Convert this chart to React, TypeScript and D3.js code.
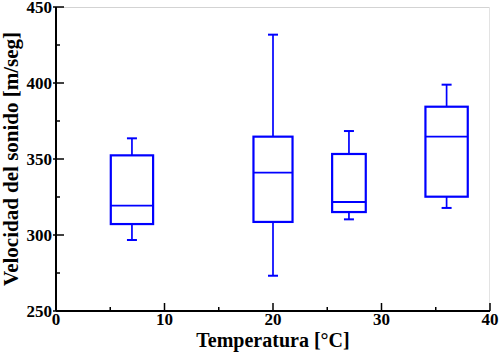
import * as d3 from 'd3';

// temperatures (box centre) and box width, in °C
const temps = [7, 20, 27, 36];
const boxWidths = [3.9, 3.6, 3.1, 3.9];
// five-number summaries, m/seg
const whiskerLow = [296.7, 273.2, 310.3, 317.8];
const q1 = [307.2, 308.6, 315.1, 325.2];
const medians = [319.3, 341.0, 321.7, 364.7];
const q3 = [352.4, 364.7, 353.3, 384.4];
const whiskerHigh = [363.6, 431.8, 368.4, 398.9];

const xTicks = [0, 10, 20, 30, 40];
const yTicks = [250, 300, 350, 400, 450];

const width = 500;
const height = 353;
const margin = { top: 7, right: 10, bottom: 42, left: 56 };
const w = width - margin.left - margin.right;
const h = height - margin.top - margin.bottom;
const FONT = 'Liberation Serif';
const BLUE = '#0000ff';

function App() {
  const x = d3.scaleLinear().domain([0, 40]).range([0, w]);
  const y = d3.scaleLinear().domain([250, 450]).range([h, 0]);
  const xMinor = d3.range(5, 40, 10);
  const yMinor = d3.range(275, 450, 50);

  return (
    <svg width={width} height={height} style={{ position: 'absolute', left: 0, top: 0, background: '#fff' }}>
      <g transform={`translate(${margin.left},${margin.top})`}>
        {/* light frame top / right */}
        <line x1={0} x2={w} y1={0.5} y2={0.5} stroke="#d3d3d3" strokeWidth={1} />
        <line x1={w - 0.5} x2={w - 0.5} y1={0} y2={h} stroke="#e3e3e3" strokeWidth={1} />

        {xMinor.map(d => (
          <line key={'xm' + d} x1={x(d)} x2={x(d)} y1={h} y2={h - 4} stroke="#000" strokeWidth={1.5} />
        ))}
        {yMinor.map(d => (
          <line key={'ym' + d} x1={0} x2={4} y1={y(d)} y2={y(d)} stroke="#000" strokeWidth={1.5} />
        ))}
        {xTicks.map(d => (
          <line key={'xM' + d} x1={x(d)} x2={x(d)} y1={h} y2={h - 8} stroke="#000" strokeWidth={1.5} />
        ))}
        {yTicks.map(d => (
          <line key={'yM' + d} x1={-3} x2={8} y1={y(d)} y2={y(d)} stroke="#000" strokeWidth={1.5} />
        ))}

        <line x1={0} x2={w} y1={h} y2={h} stroke="#000" strokeWidth={2} />
        <line x1={0} x2={0} y1={0} y2={h} stroke="#000" strokeWidth={2} />

        {xTicks.map(d => (
          <text key={'xt' + d} x={x(d)} y={h + 14} textAnchor="middle"
            fontFamily={FONT} fontWeight="bold" fontSize={17}>{d}</text>
        ))}
        {yTicks.map(d => (
          <text key={'yt' + d} x={-4} y={y(d) + 6} textAnchor="end"
            fontFamily={FONT} fontWeight="bold" fontSize={17}>{d}</text>
        ))}

        {temps.map((t, i) => {
          const x0 = x(t - boxWidths[i] / 2);
          const x1 = x(t + boxWidths[i] / 2);
          const cx = x(t);
          return (
            <g key={'box' + t} stroke={BLUE} fill="none">
              <line x1={cx} x2={cx} y1={y(q3[i])} y2={y(whiskerHigh[i])} strokeWidth={1.7} />
              <line x1={cx} x2={cx} y1={y(q1[i])} y2={y(whiskerLow[i])} strokeWidth={1.7} />
              <line x1={cx - 5} x2={cx + 5} y1={y(whiskerHigh[i])} y2={y(whiskerHigh[i])} strokeWidth={2} />
              <line x1={cx - 5} x2={cx + 5} y1={y(whiskerLow[i])} y2={y(whiskerLow[i])} strokeWidth={2} />
              <rect x={x0} y={y(q3[i])} width={x1 - x0} height={y(q1[i]) - y(q3[i])} strokeWidth={2.2} />
              <line x1={x0} x2={x1} y1={y(medians[i])} y2={y(medians[i])} strokeWidth={1.8} />
            </g>
          );
        })}
      </g>

      <text x={margin.left + w / 2} y={347} textAnchor="middle"
        fontFamily={FONT} fontWeight="bold" fontSize={20}>Temperatura [°C]</text>
      <text transform={`translate(18,${margin.top + h / 2}) rotate(-90)`} textAnchor="middle"
        fontFamily={FONT} fontWeight="bold" fontSize={21}>Velocidad del sonido [m/seg]</text>
    </svg>
  );
}

export default App;
